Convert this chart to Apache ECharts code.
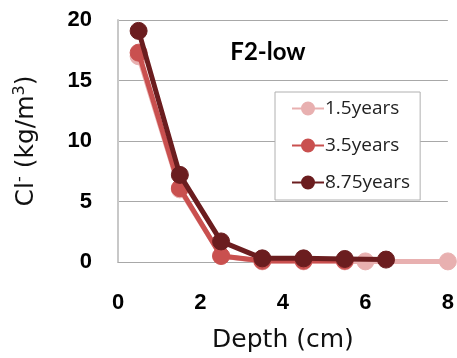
<!DOCTYPE html>
<html>
<head>
<meta charset="utf-8">
<script src="https://cdn.jsdelivr.net/npm/echarts@6/dist/echarts.min.js"></script>
<style>
  html, body { margin: 0; padding: 0; background: #fff; }
  #chart { width: 457px; height: 358px; }
</style>
</head>
<body>
<div id="chart"></div>
<script>
// values: [depth (cm), Cl- (kg/m3)]
const years15 = [[0.5, 17.0], [1.5, 6.0], [2.5, 0.5], [3.5, 0.05], [4.5, 0.05], [5.5, 0.05], [6, 0.05], [8, 0.05]];
const years35 = [[0.5, 17.3], [1.5, 6.1], [2.5, 0.5], [3.5, 0.1], [4.5, 0.1], [5.5, 0.1]];
const years875 = [[0.5, 19.1], [1.5, 7.2], [2.5, 1.7], [3.5, 0.3], [4.5, 0.3], [5.5, 0.25], [6.5, 0.2]];
const seriesNames = ["1.5years", "3.5years", "8.75years"];
const colors = ["#e8b0b0", "#c9504f", "#6b1d1f"];

const chart = echarts.init(document.getElementById("chart"));

function lineSeries(name, data, color, z) {
  return {
    name: name,
    type: "line",
    data: data,
    z: z,
    symbol: "circle",
    symbolSize: 17,
    lineStyle: { width: 5, color: color },
    itemStyle: { color: color, borderColor: color, borderWidth: 1 },
    emphasis: { disabled: true },
  };
}

chart.setOption({
  animation: false,
  title: {
    text: "F2-low",
    left: 263,
    top: 35,
    textAlign: "center",
    textStyle: { fontFamily: "Lato", fontWeight: "bold", fontSize: 24, color: "#000" },
  },
  legend: {
    orient: "vertical",
    left: 275,
    top: 92,
    width: 159,
    itemWidth: 32,
    itemHeight: 15,
    itemGap: 18,
    padding: [7, 10, 8, 16],
    backgroundColor: "#fff",
    borderColor: "#b0b0b0",
    borderWidth: 1,
    textStyle: { fontFamily: "Open Sans", fontSize: 19, color: "#222", padding: [0, 0, 0, -4] },
    data: seriesNames,
  },
  grid: { left: 118, right: 9, top: 20, bottom: 96 },
  xAxis: {
    type: "value",
    min: 0,
    max: 8,
    interval: 2,
    name: "Depth (cm)",
    nameLocation: "middle",
    nameGap: 66,
    nameTextStyle: { fontFamily: "DejaVu Sans", fontSize: 25, color: "#111" },
    axisLine: { show: true, lineStyle: { color: "#a8a8a8", width: 1 } },
    axisTick: { show: false },
    splitLine: { show: false },
    axisLabel: { margin: 30, fontFamily: "Liberation Sans", fontWeight: "bold", fontSize: 22, color: "#000" },
  },
  yAxis: {
    type: "value",
    min: 0,
    max: 20,
    interval: 5,
    name: "{n|Cl}{s|-}{n| (kg/m}{s|3}{n|)}",
    nameLocation: "middle",
    nameGap: 78,
    nameRotate: 90,
    nameTextStyle: {
      rich: {
        n: { fontFamily: "DejaVu Sans", fontSize: 25, color: "#111" },
        s: { fontFamily: "DejaVu Sans", fontSize: 16, color: "#111", verticalAlign: "top", padding: [0, 0, 12, 0] },
      },
    },
    axisLine: { show: true, lineStyle: { color: "#c8c8c8", width: 2 } },
    axisTick: { show: false },
    splitLine: { show: true, lineStyle: { color: "#a8a8a8", width: 1 } },
    axisLabel: { margin: 26, fontFamily: "Liberation Sans", fontWeight: "bold", fontSize: 22, color: "#000" },
  },
  series: [
    lineSeries(seriesNames[0], years15, colors[0], 2),
    lineSeries(seriesNames[1], years35, colors[1], 3),
    lineSeries(seriesNames[2], years875, colors[2], 4),
  ],
});
</script>
</body>
</html>
